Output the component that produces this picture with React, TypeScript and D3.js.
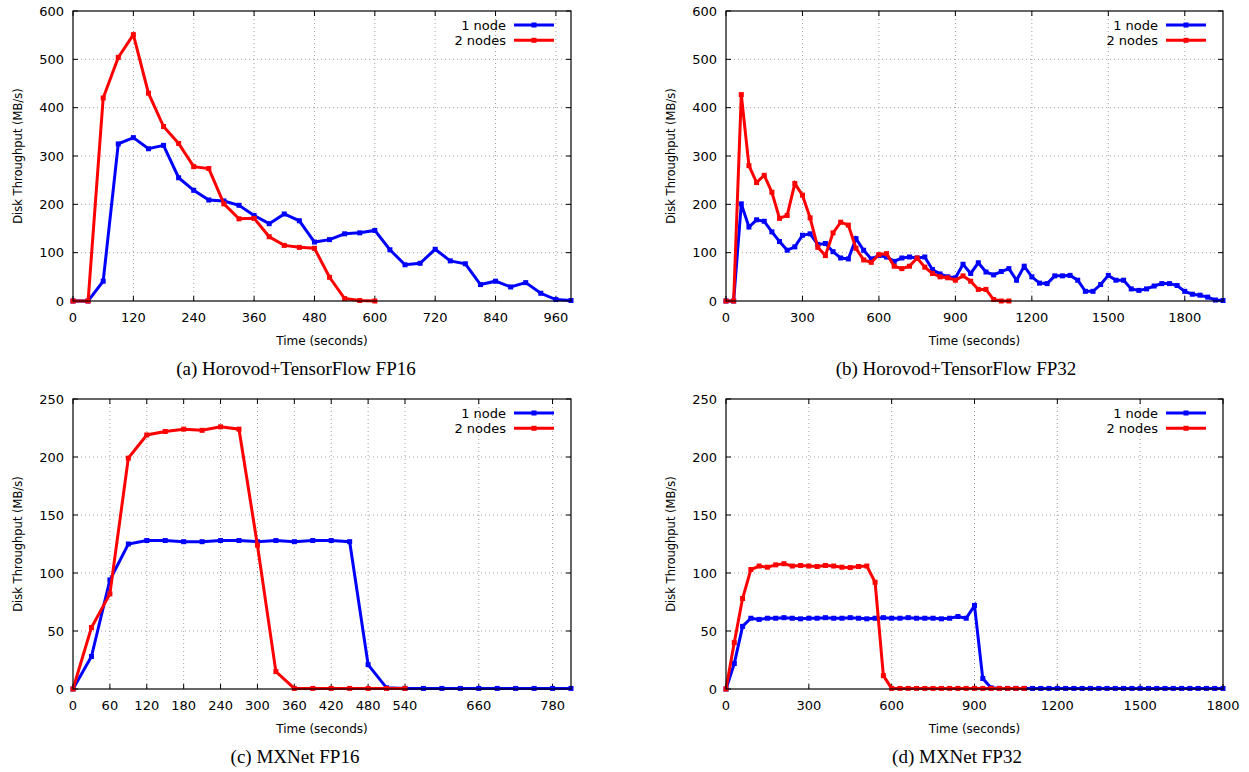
import React from "react";
import * as d3 from "d3";

// Sample interval (seconds) between consecutive measurements
const STEP = 30;

// (a) Horovod+TensorFlow FP16
const aNode1 = [0, 0, 41, 325, 338, 315, 322, 255, 229, 209, 207, 198, 177, 160, 180, 166, 122, 127, 139, 141, 146, 106, 75, 78, 107, 83, 77, 34, 41, 29, 38, 16, 3, 1];
const aNode2 = [0, 0, 420, 504, 551, 430, 361, 326, 278, 274, 201, 170, 171, 133, 115, 111, 109, 49, 5, 1, 0];

// (b) Horovod+TensorFlow FP32
const bNode1 = [0, 0, 201, 153, 168, 165, 143, 123, 105, 112, 136, 139, 117, 119, 102, 89, 87, 129, 105, 87, 94, 91, 82, 89, 91, 89, 91, 65, 56, 50, 48, 76, 57, 79, 60, 54, 61, 67, 43, 72, 50, 37, 36, 52, 52, 53, 43, 20, 20, 34, 53, 43, 43, 25, 22, 25, 31, 36, 36, 32, 20, 14, 12, 8, 2, 1];
const bNode2 = [0, 0, 427, 280, 245, 260, 225, 171, 177, 243, 219, 172, 111, 94, 141, 163, 157, 109, 85, 80, 96, 98, 72, 67, 72, 89, 70, 57, 50, 48, 43, 52, 41, 24, 24, 3, 0, 0];

// (c) MXNet FP16
const cNode1 = [0, 28, 94, 125, 128, 128, 127, 127, 128, 128, 127, 128, 127, 128, 128, 127, 21, 1, 0.5, 0.5, 0.5, 0.5, 0.5, 0.5, 0.5, 0.5, 0.5, 0.5];
const cNode2 = [0, 53, 82, 199, 219, 222, 224, 223, 226, 224, 124, 15, 0.5, 0.5, 0.5, 0.5, 0.5, 0.5, 0.5];

// (d) MXNet FP32
const dNode1 = [0, 22, 54, 61, 60, 61, 61, 61.5, 61, 60.5, 61, 61, 61.5, 61, 61, 61.5, 61, 60.5, 61, 61.5, 61, 61, 61.5, 61, 61, 61, 60.5, 61, 62.5, 61, 72, 9, 1,
  0.5, 0.5, 0.5, 0.5, 0.5, 0.5, 0.5, 0.5, 0.5, 0.5, 0.5, 0.5, 0.5, 0.5, 0.5, 0.5, 0.5, 0.5, 0.5, 0.5, 0.5, 0.5, 0.5, 0.5, 0.5, 0.5, 0.5, 0.5];
const dNode2 = [0, 40, 78, 103, 106, 105, 107, 108, 106, 106.5, 106, 105.6, 106.5, 106, 105, 104.7, 105.6, 106, 92, 11.5,
  0.5, 0.5, 0.5, 0.5, 0.5, 0.5, 0.5, 0.5, 0.5, 0.5, 0.5, 0.5, 0.5, 0.5, 0.5, 0.5, 0.5];

// Tick labels
const aXTicks = [0, 120, 240, 360, 480, 600, 720, 840, 960];
const bXTicks = [0, 300, 600, 900, 1200, 1500, 1800];
const cXTicks = [0, 60, 120, 180, 240, 300, 360, 420, 480, 540, 660, 780];
const dXTicks = [0, 300, 600, 900, 1200, 1500, 1800];
const hvdYTicks = [0, 100, 200, 300, 400, 500, 600];
const mxYTicks = [0, 50, 100, 150, 200, 250];

const seriesNames = ["1 node", "2 nodes"];
const seriesColors = ["#0000ff", "#ff0000"];

const SANS = "'DejaVu Sans', sans-serif";
const SERIF = "'Liberation Serif', 'Times New Roman', serif";

type Box = { l: number; r: number; t: number; b: number };

function Panel(props: {
  box: Box;
  xMax: number;
  yMax: number;
  xTicks: number[];
  yTicks: number[];
  node1: number[];
  node2: number[];
  caption: string;
  captionX: number;
  captionY: number;
}) {
  const { box, xMax, yMax, xTicks, yTicks, node1, node2, caption, captionX, captionY } = props;
  const x = d3.scaleLinear().domain([0, xMax]).range([box.l, box.r]);
  const y = d3.scaleLinear().domain([0, yMax]).range([box.b, box.t]);
  const line = d3
    .line<number>()
    .x((_, i) => x(i * STEP))
    .y((d) => y(d));
  const tickLen = 5;
  const series = [node1, node2];
  const midY = (box.t + box.b) / 2;
  const midX = (box.l + box.r) / 2;

  return (
    <g>
      {/* grid */}
      {yTicks
        .filter((v) => v > 0 && v < yMax)
        .map((v) => (
          <line key={"gy" + v} x1={box.l} x2={box.r} y1={y(v)} y2={y(v)} stroke="#a0a0a0" strokeWidth={1} strokeDasharray="1,3" />
        ))}
      {xTicks
        .filter((v) => v > 0 && v < xMax)
        .map((v) => (
          <line key={"gx" + v} x1={x(v)} x2={x(v)} y1={box.t} y2={box.b} stroke="#a0a0a0" strokeWidth={1} strokeDasharray="1,3" />
        ))}
      {/* ticks */}
      {yTicks.map((v) => (
        <g key={"ty" + v}>
          <line x1={box.l} x2={box.l + tickLen} y1={y(v)} y2={y(v)} stroke="#000" />
          <line x1={box.r} x2={box.r - tickLen} y1={y(v)} y2={y(v)} stroke="#000" />
          <text x={box.l - 9} y={y(v)} dy="0.35em" textAnchor="end" fontFamily={SANS} fontSize={13} fill="#000">
            {v}
          </text>
        </g>
      ))}
      {xTicks.map((v) => (
        <g key={"tx" + v}>
          <line x1={x(v)} x2={x(v)} y1={box.b} y2={box.b - tickLen} stroke="#000" />
          <line x1={x(v)} x2={x(v)} y1={box.t} y2={box.t + tickLen} stroke="#000" />
          <text x={x(v)} y={box.b + 21} textAnchor="middle" fontFamily={SANS} fontSize={13} fill="#000">
            {v}
          </text>
        </g>
      ))}
      {/* axis titles */}
      <text
        transform={`translate(${box.l - 55},${midY}) rotate(-90)`}
        textAnchor="middle"
        dy="0.35em"
        fontFamily={SANS}
        fontSize={11.5}
        fill="#000"
      >
        Disk Throughput (MB/s)
      </text>
      <text x={midX} y={box.b + 44} textAnchor="middle" fontFamily={SANS} fontSize={12} fill="#000">
        Time (seconds)
      </text>
      {/* data */}
      {series.map((vals, si) => (
        <g key={"s" + si}>
          <path d={line(vals) || ""} fill="none" stroke={seriesColors[si]} strokeWidth={3} strokeLinejoin="miter" />
          {vals.map((v, i) => (
            <rect key={i} x={x(i * STEP) - 2.5} y={y(v) - 2.5} width={5} height={5} fill={seriesColors[si]} />
          ))}
        </g>
      ))}
      {/* legend */}
      {seriesNames.map((name, si) => {
        const ly = box.t + 14 + si * 15.3;
        return (
          <g key={"lg" + si}>
            <text x={box.r - 65} y={ly} dy="0.35em" textAnchor="end" fontFamily={SANS} fontSize={13} fill="#000">
              {name}
            </text>
            <line x1={box.r - 57} x2={box.r - 17} y1={ly} y2={ly} stroke={seriesColors[si]} strokeWidth={3} />
            <rect x={box.r - 39.5} y={ly - 2.5} width={5} height={5} fill={seriesColors[si]} />
          </g>
        );
      })}
      {/* frame */}
      <rect x={box.l} y={box.t} width={box.r - box.l} height={box.b - box.t} fill="none" stroke="#000" strokeWidth={1.2} />
      {/* caption */}
      <text x={captionX} y={captionY} textAnchor="middle" fontFamily={SERIF} fontSize={19} fill="#000">
        {caption}
      </text>
    </g>
  );
}

export default function App() {
  return (
    <svg width={1249} height={772} style={{ position: "absolute", left: 0, top: 0, background: "#fff" }}>
      <rect x={0} y={0} width={1249} height={772} fill="#fff" />
      <Panel
        box={{ l: 73, r: 571, t: 11, b: 301 }}
        xMax={990}
        yMax={600}
        xTicks={aXTicks}
        yTicks={hvdYTicks}
        node1={aNode1}
        node2={aNode2}
        caption="(a) Horovod+TensorFlow FP16"
        captionX={296}
        captionY={375}
      />
      <Panel
        box={{ l: 726, r: 1223, t: 11, b: 301 }}
        xMax={1950}
        yMax={600}
        xTicks={bXTicks}
        yTicks={hvdYTicks}
        node1={bNode1}
        node2={bNode2}
        caption="(b) Horovod+TensorFlow FP32"
        captionX={956}
        captionY={375}
      />
      <Panel
        box={{ l: 73, r: 571, t: 399, b: 689 }}
        xMax={810}
        yMax={250}
        xTicks={cXTicks}
        yTicks={mxYTicks}
        node1={cNode1}
        node2={cNode2}
        caption="(c) MXNet FP16"
        captionX={295}
        captionY={763}
      />
      <Panel
        box={{ l: 726, r: 1223, t: 399, b: 689 }}
        xMax={1800}
        yMax={250}
        xTicks={dXTicks}
        yTicks={mxYTicks}
        node1={dNode1}
        node2={dNode2}
        caption="(d) MXNet FP32"
        captionX={957}
        captionY={763}
      />
    </svg>
  );
}
